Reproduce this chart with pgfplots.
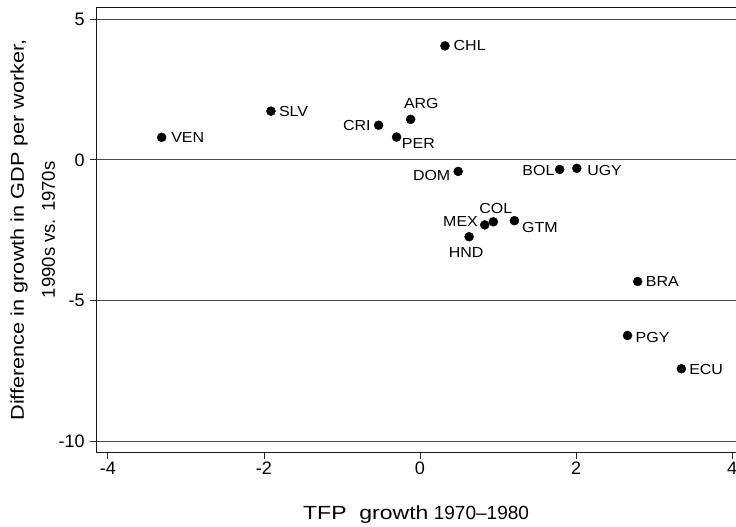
\documentclass[border=0pt]{standalone}
\usepackage{fontspec}
\setmainfont{Liberation Sans}
\usepackage{pgfplots}
\pgfplotsset{compat=1.18}
\usepackage{pgfplotstable}

% the letters in the original are wider than Arial's, the digits are not
\newfontfamily\widefont[FakeStretch=1.21]{Liberation Sans}
\newfontfamily\ywidefont[FakeStretch=1.17]{Liberation Sans}
\newfontfamily\capsfont[FakeStretch=1.1]{Liberation Sans}

% TFP growth 1970-80 vs change in GDP/worker growth (1990s vs 1970s)
% dx, dy: label offsets from the marker, in pt
\pgfplotstableread{
x      y      label  dx     dy
-3.31  0.80   VEN    26.0   0.0
-1.91  1.73   SLV    22.6   0.0
-0.53  1.23   CRI   -21.7   0.0
-0.12  1.44   ARG    10.7   15.7
-0.30  0.81   PER    21.8  -6.6
 0.32  4.05   CHL    24.7   0.0
 0.49 -0.41   DOM   -26.5  -4.0
 1.79 -0.34   BOL   -21.2  -1.0
 2.01 -0.30   UGY    27.7  -2.0
 0.83 -2.31   MEX   -24.2   3.3
 0.94 -2.20   COL    2.4    13.6
 1.21 -2.16   GTM    25.5  -6.7
 0.63 -2.73   HND   -2.9   -15.4
 2.79 -4.32   BRA    24.6   0.0
 2.66 -6.24   PGY    25.0  -2.0
 3.35 -7.42   ECU    24.7  -1.0
}\tfpdata

\begin{document}
\begin{tikzpicture}
\begin{axis}[
  name=ax,
  scale only axis,
  width=639pt, height=445pt,
  xmin=-4.15, xmax=4.05,
  ymin=-10.40, ymax=5.43,
  xtick={-4,-2,0,2,4},
  ytick={-10,-5,0,5},
  xtick pos=bottom, ytick pos=left,
  tick align=outside,
  major tick length=6pt,
  tick style={black!85, line width=0.8pt},
  axis line style={black!90, line width=1pt},
  ymajorgrids,
  major grid style={black!70, line width=0.9pt},
  /pgf/number format/assume math mode=true,
  ticklabel style={font=\fontsize{18}{20}\selectfont},
  yticklabel style={xshift=-2pt},
  xlabel={{\widefont TFP\ \ growth} 1970--1980},
  ylabel={{\ywidefont Difference in growth in GDP per worker,}\\[9pt]1990s vs. 1970s},
  xlabel style={font=\fontsize{19}{22}\selectfont,
    at={(axis description cs:0.5,0)}, anchor=base, yshift=-67pt},
  ylabel style={font=\fontsize{18.5}{22}\selectfont,
    at={(axis description cs:-0.064,0.5)}, anchor=south, align=center, inner sep=0pt},
]
\addplot[only marks, mark=*, mark size=4.5pt, black,
  nodes near coords,
  point meta=explicit symbolic,
  visualization depends on={\thisrow{dx}\as\lx},
  visualization depends on={\thisrow{dy}\as\ly},
  every node near coord/.append style={anchor=center, xshift=\lx pt, yshift=\ly pt,
    font=\capsfont\fontsize{14.5}{16}\selectfont,
    text depth=0pt, inner sep=0pt, black},
] table[x=x, y=y, meta=label] {\tfpdata};
\end{axis}
\pgfresetboundingbox
\path[use as bounding box] ([shift={(-96pt,-74pt)}]ax.south west) rectangle ([shift={(0pt,7pt)}]ax.north east);
\end{tikzpicture}
\end{document}
